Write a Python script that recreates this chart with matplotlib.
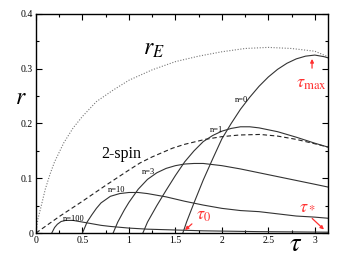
import numpy as np
import matplotlib
matplotlib.use("Agg")
import matplotlib.pyplot as plt
from matplotlib.ticker import MultipleLocator

plt.rcParams['font.family'] = 'serif'
plt.rcParams['font.serif'] = ['Liberation Serif', 'DejaVu Serif']
plt.rcParams['mathtext.fontset'] = 'stix'

# r_E (dotted)
tau_E = [0, 0.02, 0.05, 0.1, 0.15, 0.2, 0.3, 0.4, 0.5, 0.65, 0.83, 1.0, 1.25, 1.5,
         1.75, 2.0, 2.25, 2.5, 2.75, 3.0, 3.14]
r_E = [0, 0.025, 0.045, 0.08, 0.107, 0.13, 0.165, 0.192, 0.213, 0.24, 0.261, 0.279,
       0.298, 0.313, 0.323, 0.331, 0.337, 0.339, 0.337, 0.332, 0.322]

# 2-spin (dashed)
tau_2s = [0, 0.25, 0.5, 0.75, 1.0, 1.12, 1.25, 1.47, 1.6, 1.82, 2.0, 2.19, 2.41,
          2.6, 2.8, 3.0, 3.14]
r_2s = [0, 0.03, 0.058, 0.087, 0.115, 0.128, 0.139, 0.155, 0.162, 0.171, 0.176,
        0.179, 0.18, 0.177, 0.171, 0.163, 0.157]

# n = 0, 1, 3, 10, 100
tau_n0 = [1.58, 1.62, 1.7, 1.8, 1.9, 2.0, 2.1, 2.2, 2.3, 2.4, 2.5, 2.6, 2.7, 2.8,
          2.9, 3.0, 3.1, 3.14]
r_n0 = [0, 0.02, 0.055, 0.097, 0.135, 0.172, 0.2, 0.226, 0.248, 0.268, 0.285,
        0.299, 0.31, 0.318, 0.323, 0.325, 0.322, 0.32]

tau_n1 = [1.15, 1.2, 1.3, 1.4, 1.5, 1.6, 1.7, 1.8, 1.9, 2.0, 2.1, 2.2, 2.3, 2.4,
          2.6, 2.8, 3.0, 3.14]
r_n1 = [0, 0.02, 0.05, 0.078, 0.105, 0.13, 0.15, 0.167, 0.178, 0.186, 0.191,
        0.194, 0.194, 0.192, 0.185, 0.175, 0.164, 0.157]

tau_n3 = [0.83, 0.88, 0.95, 1.0, 1.1, 1.2, 1.3, 1.4, 1.5, 1.6, 1.7, 1.8, 2.0, 2.2,
          2.4, 2.6, 2.8, 3.0, 3.14]
r_n3 = [0, 0.02, 0.042, 0.056, 0.08, 0.098, 0.11, 0.118, 0.123, 0.126, 0.127,
        0.127, 0.123, 0.117, 0.11, 0.103, 0.096, 0.089, 0.084]

tau_n10 = [0.5, 0.55, 0.6, 0.65, 0.7, 0.8, 0.9, 1.0, 1.1, 1.2, 1.4, 1.6, 1.8, 2.0,
           2.2, 2.4, 2.6, 2.8, 3.0, 3.14]
r_n10 = [0, 0.02, 0.033, 0.045, 0.055, 0.067, 0.072, 0.074, 0.074, 0.072, 0.066,
         0.058, 0.051, 0.045, 0.041, 0.039, 0.035, 0.031, 0.029, 0.027]

tau_n100 = [0.17, 0.2, 0.23, 0.27, 0.32, 0.4, 0.5, 0.6, 0.7, 0.8, 1.0, 1.2, 1.4,
            1.6, 1.8, 2.0, 2.4, 2.8, 3.14]
r_n100 = [0, 0.01, 0.016, 0.021, 0.023, 0.023, 0.02, 0.017, 0.014, 0.012, 0.009,
          0.007, 0.006, 0.005, 0.004, 0.0035, 0.0025, 0.002, 0.0015]

fig = plt.figure(figsize=(3.48, 2.64), dpi=100)
ax = fig.add_axes([0.1034, 0.1174, 0.8391, 0.8296])

lc = '#333333'
ax.plot(tau_E, r_E, color='#777777', lw=0.8, ls=(0, (1, 1.5)))
ax.plot(tau_2s, r_2s, color='#222222', lw=0.8, ls=(0, (4, 2.5)))
for t, r in [(tau_n0, r_n0), (tau_n1, r_n1), (tau_n3, r_n3),
             (tau_n10, r_n10), (tau_n100, r_n100)]:
    ax.plot(t, r, color=lc, lw=0.8)

ax.set_xlim(0, np.pi)
ax.set_ylim(0, 0.4)
ax.set_xticks([0, 0.5, 1, 1.5, 2, 2.5, 3])
ax.set_xticklabels(['0', '0.5', '1', '1.5', '2', '2.5', '3'])
ax.set_yticks([0, 0.1, 0.2, 0.3, 0.4])
ax.set_yticklabels(['0', '0.1', '0.2', '0.3', '0.4'])
ax.xaxis.set_minor_locator(MultipleLocator(0.25))
ax.yaxis.set_minor_locator(MultipleLocator(0.05))
ax.tick_params(which='both', direction='in', top=True, right=True,
               labelsize=7, width=0.8, pad=2)
ax.tick_params(which='major', length=4)
ax.tick_params(which='minor', length=2.5)
for s in ax.spines.values():
    s.set_linewidth(1.0)

# labels
ax.text(1.15, 0.325, r'$r_E$', fontsize=17)
ax.text(0.7, 0.137, '2-spin', fontsize=11.5)
ax.text(2.14, 0.24, 'n=0', fontsize=6)
ax.text(1.87, 0.185, 'n=1', fontsize=6)
ax.text(1.14, 0.108, 'n=3', fontsize=6)
ax.text(0.77, 0.074, 'n=10', fontsize=6)
ax.text(0.29, 0.022, 'n=100', fontsize=6)
fig.text(0.06, 0.625, r'$r$', fontsize=17, ha='center', va='center')
fig.text(0.85, 0.072, r'$\tau$', fontsize=19, ha='center', va='center')

red = '#ff3030'
ax.annotate('', xy=(2.97, 0.323), xytext=(2.97, 0.296),
            arrowprops=dict(arrowstyle='-|>', color=red, lw=0.9, mutation_scale=5))
ax.text(2.8, 0.265, r'$\tau_{\rm max}$', color=red, fontsize=13, ha='left')
ax.annotate('', xy=(1.58, 0.002), xytext=(1.7, 0.02),
            arrowprops=dict(arrowstyle='-|>', color=red, lw=0.9, mutation_scale=5))
ax.text(1.72, 0.024, r'$\tau_0$', color=red, fontsize=13)
ax.annotate('', xy=(3.12, 0.003), xytext=(2.95, 0.03),
            arrowprops=dict(arrowstyle='-|>', color=red, lw=0.9, mutation_scale=5))
ax.text(2.83, 0.042, r'$\tau_*$', color=red, fontsize=13)

plt.savefig("out.png", dpi=100)
